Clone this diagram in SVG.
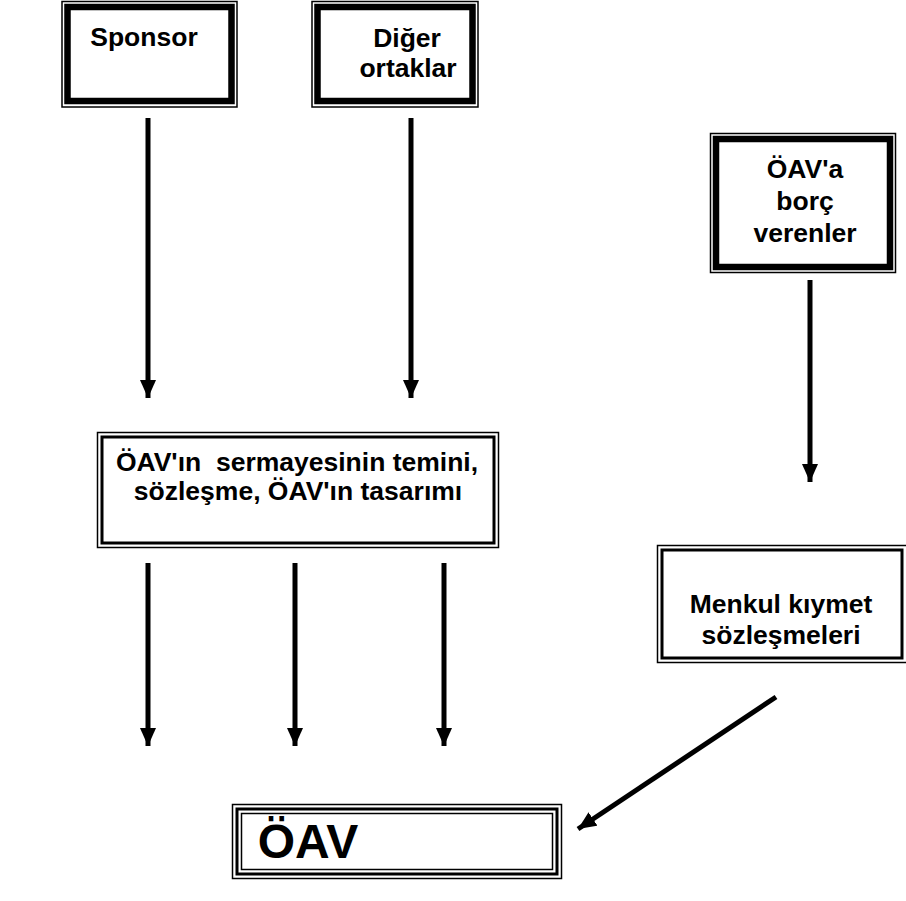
<svg xmlns="http://www.w3.org/2000/svg" width="906" height="901" viewBox="0 0 906 901">
  <defs>
    <marker id="head" markerUnits="userSpaceOnUse" markerWidth="18" markerHeight="16" refX="18" refY="8" orient="auto">
      <path d="M0,0 L18,8 L0,16 Z" fill="#000"/>
    </marker>
    <style>
      .thin { fill: none; stroke: #000; stroke-width: 1.5; }
      .thick { fill: none; stroke: #000; stroke-width: 6.5; }
      .mid { fill: none; stroke: #000; stroke-width: 3; }
      .bg { fill: #fff; stroke: none; }
      .lbl { font-family: "Liberation Sans", Arial, sans-serif; font-weight: bold; font-size: 26.5px; fill: #000; text-anchor: middle; }
      .big { font-size: 48px; }
      .conn line { stroke: #000; stroke-width: 5; marker-end: url(#head); }
    </style>
  </defs>
  <rect width="906" height="901" fill="#fff"/>

  <!-- Sponsor -->
  <g id="sponsor">
    <rect class="bg" x="62" y="1" width="175" height="106"/>
    <rect class="thin" x="62" y="1.5" width="175" height="105.5"/>
    <rect class="thick" x="67.5" y="7" width="164" height="94"/>
    <text class="lbl" x="144" y="46">Sponsor</text>
  </g>

  <!-- Diğer ortaklar -->
  <g id="diger">
    <rect class="bg" x="312" y="1" width="166" height="106"/>
    <rect class="thin" x="312" y="1.5" width="166" height="105.5"/>
    <rect class="thick" x="317.5" y="7" width="155" height="94"/>
    <text class="lbl" x="407" y="47">Diğer</text>
    <text class="lbl" x="408" y="77">ortaklar</text>
  </g>

  <!-- ÖAV'a borç verenler -->
  <g id="borc-verenler">
    <rect class="bg" x="710" y="133" width="186" height="140"/>
    <rect class="thin" x="710.5" y="133.5" width="185" height="139"/>
    <rect class="thick" x="716" y="139" width="174" height="128"/>
    <text class="lbl" x="805" y="178">ÖAV'a</text>
    <text class="lbl" x="805" y="210">borç</text>
    <text class="lbl" x="805" y="242">verenler</text>
  </g>

  <!-- ÖAV'ın sermayesinin temini -->
  <g id="sermaye">
    <rect class="bg" x="97" y="432" width="402" height="116"/>
    <rect class="thin" x="97.5" y="432.5" width="401" height="115"/>
    <rect class="mid" x="102" y="437" width="392" height="106"/>
    <text class="lbl" x="297" y="471" xml:space="preserve">ÖAV'ın  sermayesinin temini,</text>
    <text class="lbl" x="298" y="500">sözleşme, ÖAV'ın tasarımı</text>
  </g>

  <!-- Menkul kıymet sözleşmeleri -->
  <g id="menkul">
    <rect class="bg" x="657" y="545" width="249" height="118"/>
    <rect class="thin" x="657.5" y="545.5" width="250" height="117"/>
    <rect class="mid" x="662" y="550" width="240" height="108"/>
    <text class="lbl" x="781" y="613">Menkul kıymet</text>
    <text class="lbl" x="781" y="644">sözleşmeleri</text>
  </g>

  <!-- ÖAV -->
  <g id="oav">
    <rect class="bg" x="232" y="804" width="330" height="75"/>
    <rect class="thin" x="232.5" y="804.5" width="329" height="74"/>
    <rect class="mid" x="237" y="809" width="320" height="65"/>
    <rect class="thin" x="241.5" y="813.5" width="311" height="56"/>
    <text class="lbl big" x="308" y="858">ÖAV</text>
  </g>

  <!-- connectors -->
  <g id="connectors" class="conn">
    <line x1="148" y1="118" x2="148" y2="398"/>
    <line x1="411" y1="118" x2="411" y2="398"/>
    <line x1="810" y1="280" x2="810" y2="482"/>
    <line x1="148" y1="563" x2="148" y2="746"/>
    <line x1="295" y1="563" x2="295" y2="746"/>
    <line x1="444" y1="563" x2="444" y2="746"/>
    <line x1="776" y1="697" x2="578" y2="829"/>
  </g>
</svg>
